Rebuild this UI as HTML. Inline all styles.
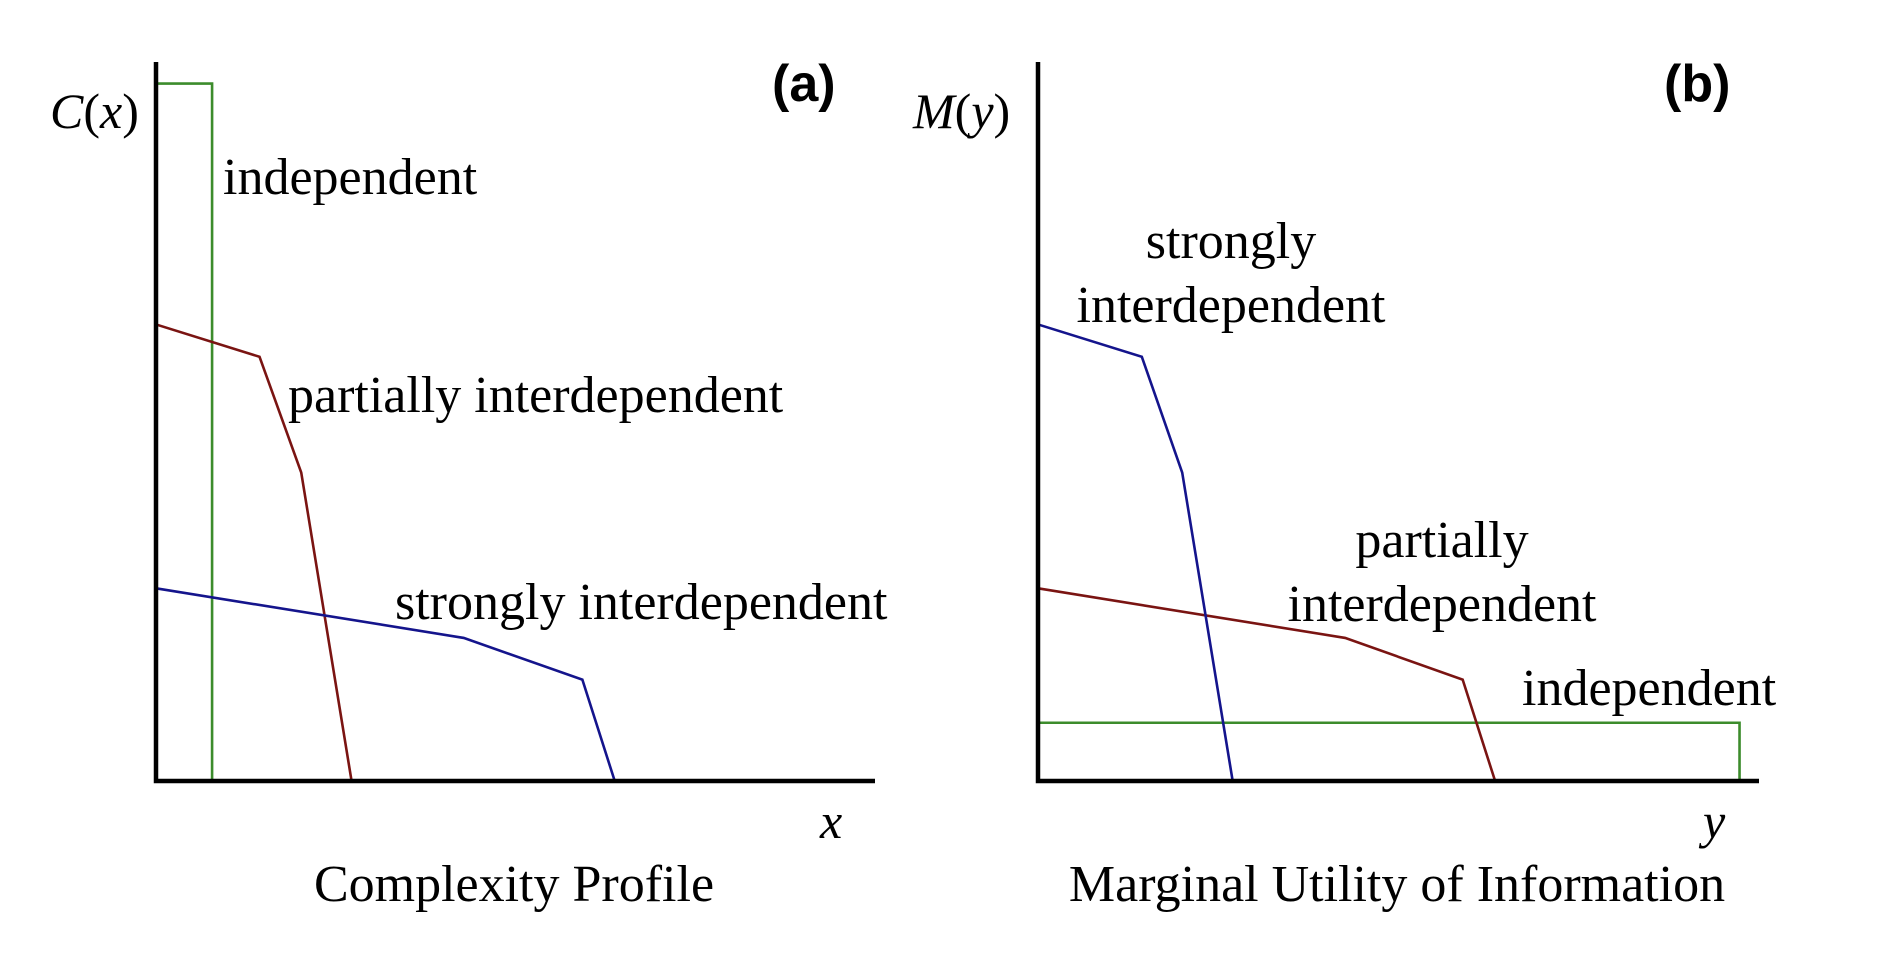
<!DOCTYPE html>
<html><head><meta charset="utf-8"><style>
html,body{margin:0;padding:0;background:#fff;}
svg text{font-family:"Liberation Serif",serif;fill:#000;}
</style></head><body>
<svg id="chart" width="1892" height="952" viewBox="0 0 1892 952" xmlns="http://www.w3.org/2000/svg">
<g id="pa"></g>
<g id="pb"></g>
<text x="50" y="128" font-size="50" font-style="italic">C<tspan font-style="normal">(</tspan>x<tspan font-style="normal">)</tspan></text>
<text x="772" y="101" font-size="52" font-weight="bold" style="font-family:'Liberation Sans',sans-serif">(a)</text>
<text x="223" y="194" font-size="52">independent</text>
<text x="288" y="412" font-size="52">partially interdependent</text>
<text x="395" y="619" font-size="52">strongly interdependent</text>
<text x="820" y="838" font-size="50" font-style="italic">x</text>
<text x="514" y="901" font-size="52" text-anchor="middle">Complexity Profile</text>
<text x="913" y="128" font-size="50" font-style="italic">M<tspan font-style="normal">(</tspan>y<tspan font-style="normal">)</tspan></text>
<text x="1664" y="101" font-size="52" font-weight="bold" style="font-family:'Liberation Sans',sans-serif">(b)</text>
<text x="1231" y="258" font-size="52" text-anchor="middle">strongly</text>
<text x="1231" y="322" font-size="52" text-anchor="middle">interdependent</text>
<text x="1442" y="557" font-size="52" text-anchor="middle">partially</text>
<text x="1442" y="621" font-size="52" text-anchor="middle">interdependent</text>
<text x="1522" y="705" font-size="52">independent</text>
<text x="1703" y="838" font-size="50" font-style="italic">y</text>
<text x="1397" y="901" font-size="52" text-anchor="middle">Marginal Utility of Information</text>
</svg>
<script>
// values in axis units: x 0..100 across the axis, y 0..100 (axis height)
const aIndepX=[0,0,7.8,7.8];
const aIndepY=[0,97,97,0];
const aPartX=[0,14.4,20.2,27.2];
const aPartY=[63.5,59.0,42.9,0];
const aStrongX=[0,42.8,59.3,63.8];
const aStrongY=[26.8,19.9,14.1,0];
const bStrongX=[0,14.4,20.0,27.0];
const bStrongY=[63.5,59.0,42.9,0];
const bPartX=[0,42.6,58.9,63.4];
const bPartY=[26.8,19.9,14.1,0];
const bIndepX=[0,97.3,97.3];
const bIndepY=[8.1,8.1,0];
const NS='http://www.w3.org/2000/svg';
function mkAxes(x0,x1,yTop,yBot){
  return {sx:v=>x0+(x1-x0)*v/100, sy:v=>yBot-(yBot-yTop)*v/100};
}
const axA=mkAxes(156,875,62,781);
const axB=mkAxes(1038,1759,62,781);
function axesLines(g,x0,x1,yTop,yBot,n){
  const p=document.createElementNS(NS,'path');
  p.setAttribute('d',`M${x0},${yTop} L${x0},${yBot} L${x1},${yBot}`);
  p.setAttribute('fill','none');p.setAttribute('stroke','#000');p.setAttribute('stroke-width','4.5');
  
  
  g.appendChild(p);
}
function series(g,ax,xs,ys,color,n){
  const p=document.createElementNS(NS,'polyline');
  p.setAttribute('points',xs.map((x,i)=>ax.sx(x)+','+ax.sy(ys[i])).join(' '));
  p.setAttribute('fill','none');p.setAttribute('stroke',color);p.setAttribute('stroke-width','2.6');
  
  
  g.appendChild(p);
}
const ga=document.getElementById('pa'), gb=document.getElementById('pb');
series(ga,axA,aIndepX,aIndepY,'#3c8c2c','line-independent-a');
series(ga,axA,aPartX,aPartY,'#7a1412','line-partially-a');
series(ga,axA,aStrongX,aStrongY,'#14148c','line-strongly-a');
axesLines(ga,156,875,62,781,'axes-a');
series(gb,axB,bIndepX,bIndepY,'#3c8c2c','line-independent-b');
series(gb,axB,bPartX,bPartY,'#7a1412','line-partially-b');
series(gb,axB,bStrongX,bStrongY,'#14148c','line-strongly-b');
axesLines(gb,1038,1759,62,781,'axes-b');
</script>
</body></html>
